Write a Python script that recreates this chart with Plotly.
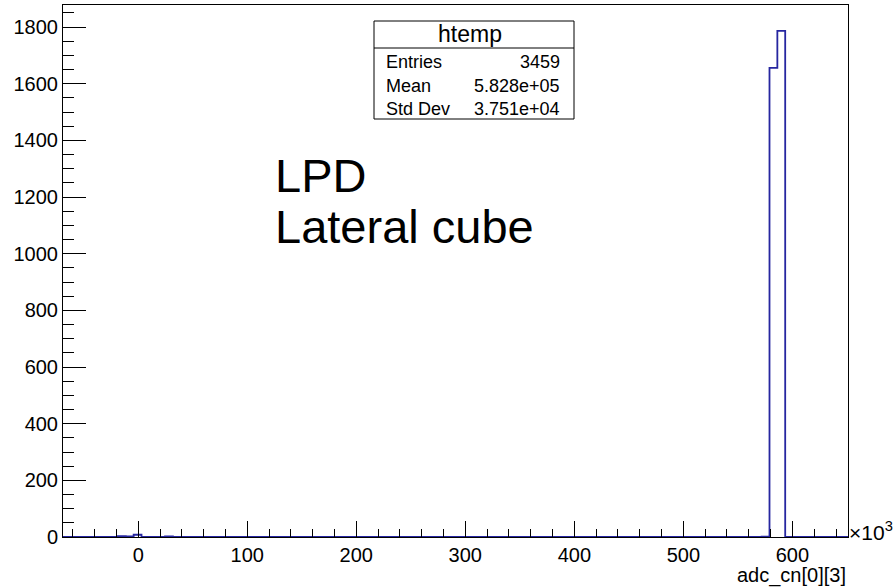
import numpy as np
import plotly.graph_objects as go

# Histogram definition (x in units of 10^3 ADC counts)
nbins = 100
x_min = -69.0
x_max = 651.0
# indices of non-empty bins and their contents
filled_bins = [7, 8, 9, 13, 89, 90, 91]
filled_counts = [3, 2, 8, 2, 1, 1656, 1787]

stats_entries = "3459"
stats_mean = "5.828e+05"
stats_std = "3.751e+04"

y_max = 1878
x_ticks = [0, 100, 200, 300, 400, 500, 600]
y_ticks = [0, 200, 400, 600, 800, 1000, 1200, 1400, 1600, 1800]

edges = np.linspace(x_min, x_max, nbins + 1)
counts = np.zeros(nbins)
counts[filled_bins] = filled_counts
# hv step outline: from 0 at left edge, along bin tops, back to 0 at right edge
step_x = [edges[0]] + list(edges[:-1]) + [edges[-1], edges[-1]]
step_y = [0] + list(counts) + [counts[-1], 0]

fig = go.Figure()
fig.add_trace(go.Scatter(
    x=step_x, y=step_y, mode="lines",
    line=dict(color="#2626a0", width=1.8, shape="hv"),
    hoverinfo="skip", showlegend=False,
))

W, H = 894, 587
L, R, T, B = 63, 848, 5, 537
pw, ph = R - L, B - T
def px(x):
    return (x - L) / pw
def py(y):
    return (B - y) / ph

font = "Liberation Sans, Arial, sans-serif"

fig.update_layout(
    width=W, height=H,
    margin=dict(l=L, r=W - R, t=T, b=H - B, pad=0, autoexpand=False),
    paper_bgcolor="white", plot_bgcolor="white",
    font=dict(family=font, color="black", size=20),
    xaxis=dict(
        range=[x_min, x_max], showgrid=False, zeroline=False,
        showline=True, mirror=True, linecolor="black", linewidth=1,
        ticks="inside", ticklen=16, tickwidth=1, tickcolor="black",
        tickvals=x_ticks, ticktext=[str(v) for v in x_ticks],
        tickfont=dict(size=20, family=font),
        minor=dict(ticks="inside", ticklen=8, dtick=20, tick0=0, tickcolor="black", tickwidth=1),
    ),
    yaxis=dict(
        range=[0, y_max], showgrid=False, zeroline=False,
        showline=True, mirror=True, linecolor="black", linewidth=1,
        ticks="inside", ticklen=23, tickwidth=1, tickcolor="black",
        tickvals=y_ticks, ticktext=[str(v) for v in y_ticks],
        tickfont=dict(size=20, family=font),
        minor=dict(ticks="inside", ticklen=11, dtick=50, tick0=0, tickcolor="black", tickwidth=1),
    ),
)

# axis title and exponent
fig.add_annotation(x=1.0, y=py(575), xref="paper", yref="paper", xanchor="right", yanchor="middle",
                   text="adc_cn[0][3]", showarrow=False, font=dict(size=20, family=font))
fig.add_annotation(x=px(847), y=py(531), xref="paper", yref="paper", xanchor="left", yanchor="middle",
                   text="×10<sup>3</sup>", showarrow=False, font=dict(size=21, family=font))

# stats box
bx0, bx1, by0, by1, bdiv = 374, 574, 21, 119, 48
fig.add_shape(type="rect", xref="paper", yref="paper", x0=px(bx0), x1=px(bx1), y0=py(by1), y1=py(by0),
              line=dict(color="black", width=1), fillcolor="white", layer="above")
fig.add_shape(type="line", xref="paper", yref="paper", x0=px(bx0), x1=px(bx1), y0=py(bdiv), y1=py(bdiv),
              line=dict(color="black", width=1), layer="above")
fig.add_annotation(x=px(470), y=py(34.5), xref="paper", yref="paper", xanchor="center",
                   yanchor="middle", text="htemp", showarrow=False, font=dict(size=23, family=font))
rows = [("Entries", stats_entries, 62.3), ("Mean", stats_mean, 86), ("Std Dev", stats_std, 109.3)]
for lab, val, yy in rows:
    fig.add_annotation(x=px(384), y=py(yy), xref="paper", yref="paper", xanchor="left", yanchor="middle",
                       text=lab, showarrow=False, font=dict(size=18, family=font))
    fig.add_annotation(x=px(562), y=py(yy), xref="paper", yref="paper", xanchor="right", yanchor="middle",
                       text=val, showarrow=False, font=dict(size=18, family=font))

# big label
fig.add_annotation(x=px(273), y=py(175.5), xref="paper", yref="paper", xanchor="left", yanchor="middle",
                   text="LPD", showarrow=False, font=dict(size=47, family=font))
fig.add_annotation(x=px(273), y=py(226), xref="paper", yref="paper", xanchor="left", yanchor="middle",
                   text="Lateral cube", showarrow=False, font=dict(size=47, family=font))

fig.write_html("out.html", config={"displayModeBar": False},
               post_script="document.body.style.margin='0';document.body.style.padding='0';")
